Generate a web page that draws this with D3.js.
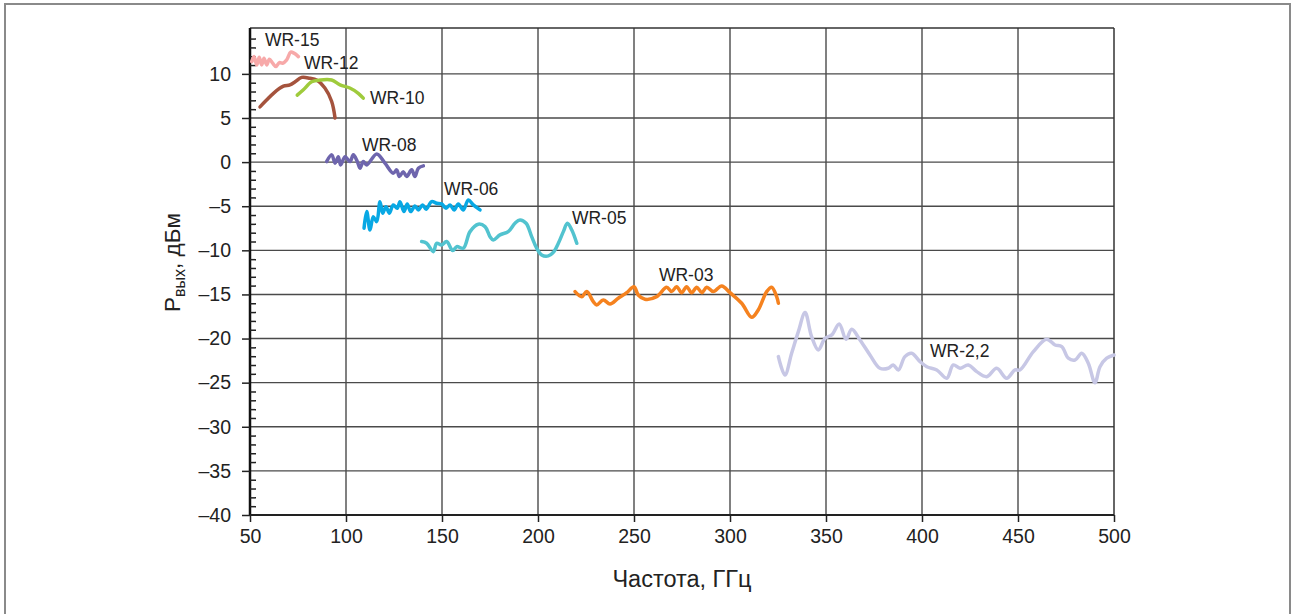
<!DOCTYPE html>
<html><head><meta charset="utf-8">
<script src="https://cdn.jsdelivr.net/npm/d3@7"></script>
<style>
html,body{margin:0;padding:0;background:#fff;}
svg{display:block;font-family:"Liberation Sans",Arial,sans-serif;}
</style></head>
<body>
<svg id="chart" width="1296" height="614"></svg>
<script>
// ---- data ----
const xTicks = [50,100,150,200,250,300,350,400,450,500];
const yTicks = [10,5,0,-5,-10,-15,-20,-25,-30,-35,-40];
const seriesNames = ["WR-15","WR-12","WR-10","WR-08","WR-06","WR-05","WR-03","WR-2,2"];
const seriesColors = ["#f7a9a9","#a5533d","#9fcb3c","#6e65ad","#08a8e4","#52c3cf","#f5821f","#c7c7e5"];

const wr15 = [[50.9,11.39],[52.1,11.96],[53.5,11.02],[54.8,11.89],[56.1,11.02],[57.3,11.78],[58.7,11.02],[60.1,11.67],[61.8,11.21],[63.5,10.83],[65.3,11.28],[67.0,11.21],[69.1,11.59],[71.2,12.46],[72.9,12.35],[75.2,11.96]];
const wr12 = [[55.2,6.26],[58.5,7.0],[62.2,7.8],[67.4,8.6],[70.8,8.75],[73.5,9.1],[76.9,9.6],[81.2,9.5],[84.7,9.3],[89.0,8.4],[92.5,6.9],[94.3,5.0]];
const wr10 = [[74.6,7.6],[77.8,8.2],[82.1,9.1],[86.5,9.3],[92.5,9.3],[96.9,8.75],[102.0,8.4],[106.4,7.8],[109.0,7.25]];
const wr08 = [[89.9,0.06],[92.6,0.82],[94.3,-0.12],[96.0,0.62],[97.2,-0.32],[99.5,0.62],[102.1,0.06],[103.8,0.82],[105.9,0.06],[107.3,-0.69],[109.0,0.06],[110.8,-0.32],[116.0,0.93],[120.3,-0.12],[124.6,-1.26],[126.4,-0.88],[127.8,-1.64],[129.8,-1.08],[131.6,-1.64],[134.2,-0.88],[135.9,-1.64],[137.7,-0.69],[140.3,-0.43]];
const wr06 = [[109.4,-7.49],[110.8,-5.61],[112.5,-7.69],[114.2,-6.18],[116.0,-6.75],[117.7,-4.48],[119.1,-5.79],[120.8,-5.05],[122.6,-5.79],[124.6,-4.85],[126.7,-5.23],[128.1,-4.48],[130.2,-5.61],[131.9,-4.74],[133.7,-5.61],[135.9,-4.97],[137.7,-5.42],[139.9,-4.85],[141.7,-5.34],[144.6,-4.48],[147.2,-4.66],[149.8,-4.74],[152.1,-5.23],[154.2,-4.85],[156.3,-5.42],[158.5,-4.74],[161.1,-5.42],[163.7,-4.29],[166.3,-4.85],[169.8,-5.42]];
const wr05 = [[139.4,-9.01],[142.0,-9.2],[145.5,-10.15],[147.2,-9.2],[149.8,-9.39],[152.4,-9.01],[155.6,-10.03],[157.7,-9.58],[161.1,-9.76],[164.6,-7.88],[168.9,-7.04],[172.4,-7.31],[175.0,-8.45],[176.7,-8.82],[180.2,-8.25],[184.5,-7.88],[188.0,-6.93],[190.6,-6.55],[193.8,-6.93],[196.7,-8.45],[199.3,-9.76],[201.9,-10.52],[205.4,-10.63],[208.3,-10.15],[210.6,-9.2],[213.2,-7.88],[215.3,-6.93],[217.6,-7.69],[220.2,-9.2]];
const wr03 = [[219.3,-14.68],[222.8,-15.25],[225.4,-14.68],[228.8,-15.82],[230.6,-16.19],[234.0,-15.62],[237.5,-16.08],[241.8,-15.43],[246.2,-14.8],[250.0,-14.12],[252.2,-15.06],[255.7,-15.54],[261.8,-15.25],[267.0,-14.18],[269.6,-14.68],[272.2,-14.12],[274.8,-14.8],[277.4,-14.12],[280.0,-14.8],[282.7,-14.18],[285.3,-14.8],[287.9,-14.18],[291.3,-14.68],[295.7,-14.04],[300.0,-14.8],[306.1,-16.0],[311.3,-17.59],[314.7,-16.76],[319.1,-14.68],[321.7,-14.18],[324.3,-15.25],[325.2,-16.0]];
const wr22 = [[325.2,-22.05],[328.6,-24.13],[332.1,-21.67],[335.6,-19.22],[339.1,-17.06],[342.5,-19.78],[346.0,-21.29],[349.5,-19.97],[353.0,-19.59],[356.9,-18.34],[360.4,-20.08],[363.4,-18.95],[367.7,-20.16],[372.9,-21.86],[378.1,-23.37],[382.4,-23.37],[385.0,-22.99],[387.7,-23.56],[391.1,-22.05],[394.6,-21.67],[399.0,-22.62],[402.5,-23.19],[407.7,-23.56],[412.9,-24.5],[416.3,-22.99],[419.8,-23.37],[424.1,-22.99],[428.5,-23.75],[433.7,-24.32],[438.9,-23.37],[444.1,-24.5],[448.4,-23.56],[451.0,-23.56],[458.0,-21.48],[464.9,-20.08],[469.3,-20.73],[472.8,-20.92],[476.2,-22.23],[479.7,-22.43],[483.2,-21.67],[486.6,-22.8],[490.1,-25.0],[492.7,-23.19],[496.2,-22.23],[500.0,-21.86]];
const seriesData = [wr15,wr12,wr10,wr08,wr06,wr05,wr03,wr22];
// label anchor (frequency, power) for each series name
const labelPos = [[57.8,13.85],[78.1,11.25],[112.5,7.28],[108.3,1.95],[151.0,-3.04],[217.7,-6.33],[263.0,-12.79],[404.2,-21.4]];

// ---- chart ----
const svg = d3.select("#chart");
const L=250, R=1114, T=28, B=515;
const x = d3.scaleLinear().domain([50,500]).range([L,R]);
const y = d3.scaleLinear().domain([-40,15.2]).range([B,T]);

// outer frame
svg.append("rect").attr("x",5).attr("y",4).attr("width",1285).attr("height",640)
  .attr("fill","none").attr("stroke","#8a8a8a").attr("stroke-width",2);

// grid
const g = svg.append("g");
g.selectAll("line.vg").data(xTicks.filter(d=>d>50&&d<500)).join("line")
  .attr("x1",d=>x(d)).attr("x2",d=>x(d)).attr("y1",T).attr("y2",B)
  .attr("stroke","#4a4a4a").attr("stroke-width",1.4);
g.selectAll("line.hg").data(yTicks.filter(d=>d>-40)).join("line")
  .attr("x1",L).attr("x2",R).attr("y1",d=>y(d)).attr("y2",d=>y(d))
  .attr("stroke","#4a4a4a").attr("stroke-width",1.4);
// border top/right
g.append("line").attr("x1",L).attr("x2",R).attr("y1",T).attr("y2",T).attr("stroke","#333").attr("stroke-width",1.5);
g.append("line").attr("x1",R).attr("x2",R).attr("y1",T).attr("y2",B).attr("stroke","#333").attr("stroke-width",1.5);

// axes
const fmt = d => (d<0 ? "\u2013"+Math.abs(d) : String(d));
const yAxis = svg.append("g").attr("transform",`translate(${L},0)`)
  .call(d3.axisLeft(y).tickValues(yTicks).tickSize(8).tickPadding(11).tickFormat(fmt));
const yMinor = svg.append("g").attr("transform",`translate(${L},0)`)
  .call(d3.axisRight(y).tickValues(d3.range(-40,16,1).filter(d=>d%5!==0)).tickSize(6).tickFormat(""));
yMinor.select(".domain").remove();
const xAxis = svg.append("g").attr("transform",`translate(0,${B})`)
  .call(d3.axisBottom(x).tickValues(xTicks).tickSize(7).tickPadding(7).tickFormat(d3.format("d")));
[yAxis,xAxis].forEach(a=>{
  a.selectAll("text").attr("font-size",19.5).attr("fill","#222").attr("font-family","Liberation Sans, Arial, sans-serif");
  a.selectAll(".tick line").attr("stroke","#222").attr("stroke-width",1.5);
});
yMinor.selectAll(".tick line").attr("stroke","#222").attr("stroke-width",1.5);
yAxis.select(".domain").attr("stroke","#111").attr("stroke-width",2.5).attr("d",`M0,${T}V${B}`);
xAxis.select(".domain").attr("stroke","#222").attr("stroke-width",1.8).attr("d",`M${L},0H${R}`);

// series
const line = d3.line().x(d=>x(d[0])).y(d=>y(d[1])).curve(d3.curveCatmullRom.alpha(0.5));
svg.append("g").selectAll("path").data(seriesData).join("path")
  .attr("d",line).attr("fill","none")
  .attr("stroke",(d,i)=>seriesColors[i]).attr("stroke-width",3.5)
  .attr("stroke-linejoin","round").attr("stroke-linecap","round");

// labels
svg.append("g").selectAll("text").data(seriesNames).join("text")
  .attr("x",(d,i)=>x(labelPos[i][0])).attr("y",(d,i)=>y(labelPos[i][1]))
  .attr("dy","0.36em").attr("font-size",17.5).attr("fill","#222").text(d=>d);

// axis titles
svg.append("text").attr("x",682).attr("y",587).attr("text-anchor","middle")
  .attr("font-size",23.5).attr("fill","#222").text("Частота, ГГц");
const yt = svg.append("text").attr("transform","translate(180,312) rotate(-90)")
  .attr("font-size",22.5).attr("fill","#222");
yt.append("tspan").text("P");
yt.append("tspan").attr("font-size",16).attr("dy",5).text("вых");
yt.append("tspan").attr("dy",-5).text(", дБм");
</script>
</body></html>
